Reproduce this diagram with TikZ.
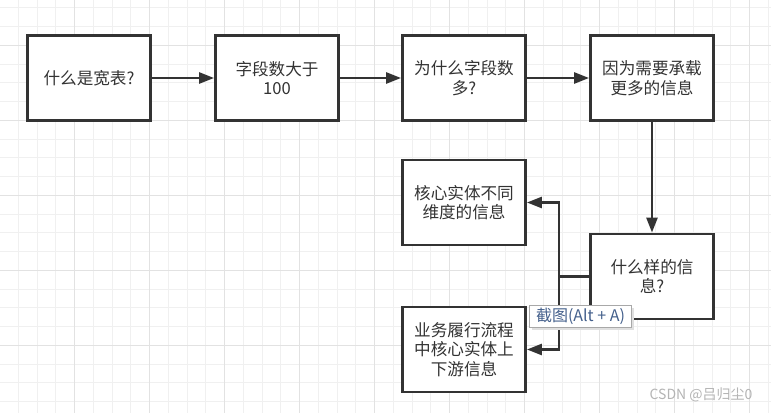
\documentclass[tikz,border=0pt]{standalone}
\usepackage{fontspec}
\setmainfont{Noto Sans CJK SC}
\usetikzlibrary{arrows.meta}
\definecolor{ink}{HTML}{333333}
\definecolor{gridminor}{HTML}{F0F0F0}
\definecolor{gridmajor}{HTML}{E2E2E2}
\definecolor{tiptext}{HTML}{44608C}
\definecolor{tipborder}{HTML}{A8A8A8}
\definecolor{mark}{HTML}{B4B4B4}
\tikzset{
  box/.style={draw=ink, line width=2.8pt, fill=white, minimum width=123pt, minimum height=85pt,
    align=center, text=ink, font=\fontsize{16.6pt}{19.5pt}\selectfont, inner sep=0pt},
  arr/.style={draw=ink, line width=2.6pt, -{Triangle[length=15pt,width=11pt]}},
  conn/.style={draw=ink, line width=2.6pt},
  minorline/.style={draw=gridminor, line width=1pt},
  majorline/.style={draw=gridmajor, line width=1pt},
  tipbox/.style={draw=tipborder, line width=0.8pt, fill=white, minimum width=102pt, minimum height=22pt,
    inner sep=0pt, text=tiptext, font=\fontsize{16pt}{18pt}\selectfont},
  markstyle/.style={text=mark, font=\fontsize{14pt}{16pt}\selectfont, inner sep=0pt}
}
\begin{document}
\begin{tikzpicture}[x=1pt,y=-1pt]
\useasboundingbox (0,0) rectangle (771,413);
\fill[white] (0,0) rectangle (771,413);
% grid
\foreach \k in {0,...,41} \draw[minorline] ({-0.5+\k*18.75},0) -- ({-0.5+\k*18.75},413);
\foreach \k in {0,...,22} \draw[minorline] (0,{7.8+\k*18.75}) -- (771,{7.8+\k*18.75});
\foreach \k in {0,...,10} \draw[majorline] ({-0.5+\k*75},0) -- ({-0.5+\k*75},413);
\foreach \k in {0,...,4} \draw[majorline] (0,{45.3+\k*75}) -- (771,{45.3+\k*75});
% boxes
\node[box] (b1) at (89,78) {什么是宽表?};
\node[box] (b2) at (277,78) {字段数大于\\100};
\node[box] (b3) at (464,78) {为什么字段数\\多?};
\node[box] (b4) at (652,78) {因为需要承载\\更多的信息};
\node[box] (b5) at (464,202.5) {核心实体不同\\维度的信息};
\node[box] (b6) at (652,276.5) {什么样的信\\息?};
\node[box] (b7) at (464,349.5) {业务履行流程\\中核心实体上\\下游信息};
% connectors
\draw[arr] (b1) -- (b2);
\draw[arr] (b2) -- (b3);
\draw[arr] (b3) -- (b4);
\draw[arr] (b4) -- (b6);
\coordinate (j) at (559,276.5);
\draw[conn] (b6.west) -- (j);
\draw[arr] (j) |- (b5.east);
\draw[arr] (j) |- (b7.east);
% tooltip overlay
\fill[black!12] (531.5,307.5) rectangle (634,330);
\node[tipbox] (tt) at (580.5,316.5) {截图(Alt + A)};
% watermark
\node[markstyle] (wm) at (701,395) {CSDN @吕归尘0};
\end{tikzpicture}
\end{document}
